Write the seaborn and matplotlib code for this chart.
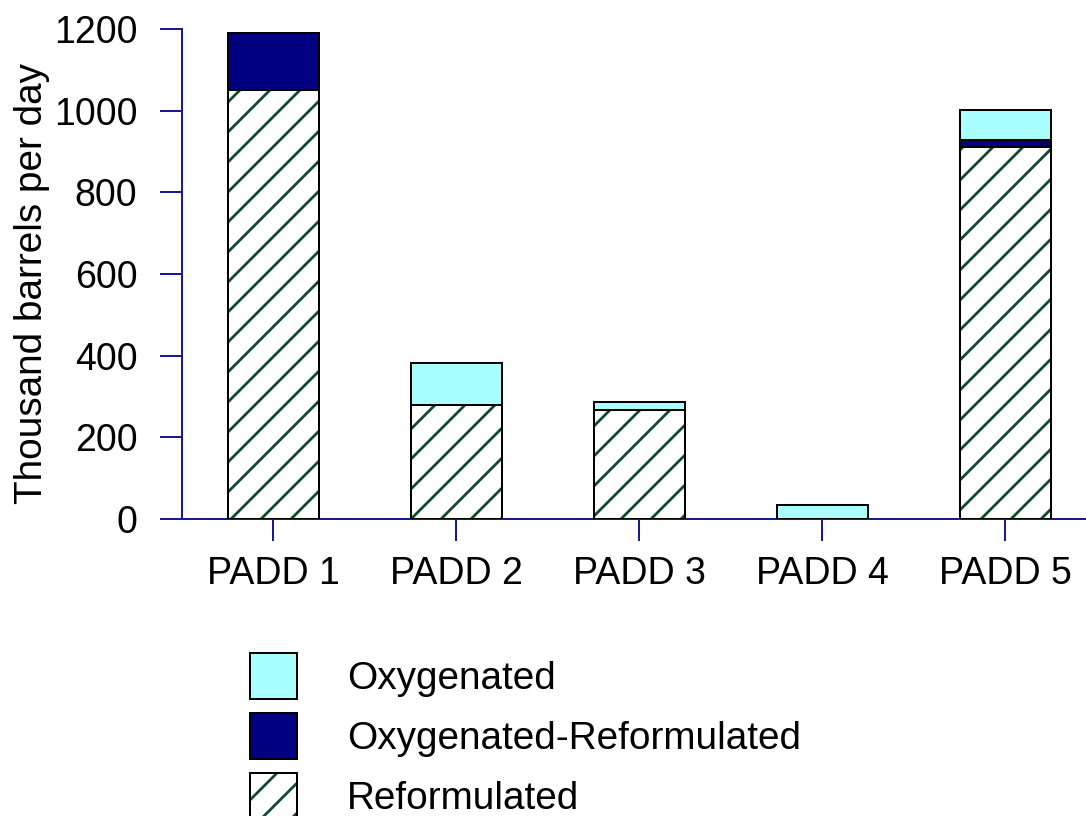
import matplotlib
matplotlib.use("Agg")
import matplotlib.pyplot as plt
import seaborn as sns
import numpy as np
from matplotlib.patches import Patch

# data (thousand barrels per day)
regions = ["PADD 1", "PADD 2", "PADD 3", "PADD 4", "PADD 5"]
reformulated = np.array([1051, 278, 267, 0, 912])
oxy_reform = np.array([139, 0, 0, 0, 17])
oxygenated = np.array([0, 104, 20, 35, 72])

cyan = "#aaffff"
navy = "#000080"
hatch_green = "#0e4a2c"
axis_blue = "#1a1a99"

sns.set_style("white")
plt.rcParams["font.family"] = ["Liberation Sans", "DejaVu Sans"]
plt.rcParams["text.color"] = "black"
plt.rcParams["axes.labelcolor"] = "black"
plt.rcParams["xtick.color"] = "black"
plt.rcParams["ytick.color"] = "black"
plt.rcParams["hatch.linewidth"] = 1.1

DPI = 180  # hatch spacing scales with dpi
fig = plt.figure(figsize=(1086 / DPI, 816 / DPI), dpi=DPI)
ax = fig.add_axes([182 / 1086, 1 - 519 / 816, (1086 - 182) / 1086, 490 / 816])

fs = 15
edge_lw = 0.8

# stacked bars drawn as overlapping cumulative totals, tallest first
total = reformulated + oxy_reform + oxygenated
sns.barplot(x=regions, y=total, color=cyan, saturation=1, width=0.5, ax=ax)
for p in ax.containers[-1]:
    p.set_edgecolor("black")
    p.set_linewidth(edge_lw)

sns.barplot(x=regions, y=reformulated + oxy_reform, color=navy, saturation=1, width=0.5, ax=ax)
for p in ax.containers[-1]:
    p.set_edgecolor("black")
    p.set_linewidth(edge_lw)

sns.barplot(x=regions, y=reformulated, color="white", saturation=1, width=0.5, ax=ax)
for p in ax.containers[-1]:
    p.set_hatch("//")
    p.set_edgecolor(hatch_green)
    p.set_linewidth(0)

# outline for the hatched segment
sns.barplot(x=regions, y=reformulated, color="white", saturation=1, width=0.5, ax=ax)
for p in ax.containers[-1]:
    p.set_facecolor("none")
    p.set_edgecolor("black")
    p.set_linewidth(edge_lw)

ax.set_xlim(-0.5, 4.44)
ax.set_ylim(0, 1200)
ax.set_yticks(range(0, 1201, 200))
ax.set_ylabel("Thousand barrels per day", fontsize=15.5)
ax.yaxis.set_label_coords(-0.146, 0.48)
ax.set_xlabel("")

for side in ["top", "right"]:
    ax.spines[side].set_visible(False)
for side in ["left", "bottom"]:
    ax.spines[side].set_color(axis_blue)
    ax.spines[side].set_linewidth(0.8)
    ax.spines[side].set_zorder(0.5)

ax.tick_params(axis="y", left=True, direction="out", length=8.8, width=0.8,
               color=axis_blue, pad=9, labelsize=fs, labelcolor="black")
ax.tick_params(axis="x", bottom=True, direction="out", length=8.8, width=0.8,
               color=axis_blue, pad=6, labelsize=fs, labelcolor="black")

# legend below the plot
h_oxy = Patch(facecolor=cyan, edgecolor="black", linewidth=edge_lw)
h_or = Patch(facecolor=navy, edgecolor="black", linewidth=edge_lw)
h_ref = (Patch(facecolor="white", edgecolor=hatch_green, hatch="//", linewidth=0),
         Patch(facecolor="none", edgecolor="black", linewidth=edge_lw))
fig.legend([h_oxy, h_or, h_ref], ["Oxygenated", "Oxygenated-Reformulated", "Reformulated"],
           loc="upper left", bbox_to_anchor=(250 / 1086, 1 - 653 / 816),
           frameon=False, fontsize=15.5, borderpad=0, borderaxespad=0,
           handlelength=1.2, handleheight=1.45, handletextpad=1.3, labelspacing=0.36)

fig.savefig("out.png", dpi=DPI)
